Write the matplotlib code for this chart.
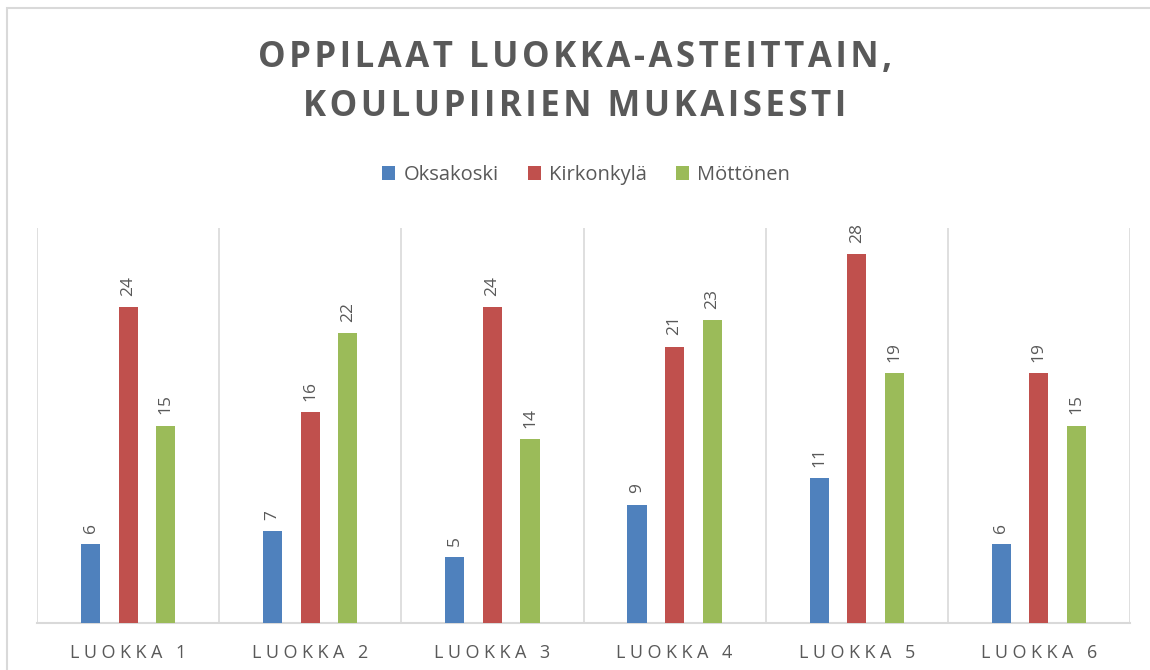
import numpy as np
import matplotlib
matplotlib.use("Agg")
import matplotlib.pyplot as plt
from matplotlib.patches import Rectangle

categories = ["LUOKKA 1", "LUOKKA 2", "LUOKKA 3", "LUOKKA 4", "LUOKKA 5", "LUOKKA 6"]
series_names = ["Oksakoski", "Kirkonkylä", "Möttönen"]
oksakoski = [6, 7, 5, 9, 11, 6]
kirkonkyla = [24, 16, 24, 21, 28, 19]
mottonen = [15, 22, 14, 23, 19, 15]

colors = ["#4F81BD", "#C0504D", "#9BBB59"]
text_grey = "#595959"
grid_grey = "#D9D9D9"

plt.rcParams["font.family"] = ["Open Sans", "DejaVu Sans"]


def spaced(s, sep="\u2009"):
    return sep.join(s)


fig = plt.figure(figsize=(11.5, 6.7), dpi=100)
# chart frame
fig.patches.append(Rectangle((7 / 1150, -0.1), 1.2, (670 - 8) / 670 + 0.1,
                             transform=fig.transFigure, fill=False,
                             edgecolor=grid_grey, linewidth=1.5))

ax = fig.add_axes([37 / 1150, 47 / 670, (1130 - 37) / 1150, (623 - 228) / 670])

x = np.arange(len(categories))
width = 0.105
offset = 0.206
for i, (vals, name) in enumerate(zip([oksakoski, kirkonkyla, mottonen], series_names)):
    bars = ax.bar(x + (i - 1) * offset, vals, width, color=colors[i], label=name, zorder=3)
    for b, v in zip(bars, vals):
        ax.annotate(str(v), (b.get_x() + b.get_width() / 2, b.get_height()),
                    xytext=(0, 8), textcoords="offset points", rotation=90,
                    ha="center", va="bottom", fontsize=12.5, color=text_grey)

ax.set_xlim(-0.5, len(categories) - 0.5)
ax.set_ylim(0, 30)
ax.set_yticks([])
ax.set_xticks(x)
ax.set_xticklabels([spaced(c, "\u2005") for c in categories], fontsize=13, color=text_grey)
ax.set_xticks(np.arange(-0.5, len(categories)), minor=True)
ax.tick_params(axis="x", which="both", length=0, pad=15)
ax.grid(True, axis="x", which="minor", color=grid_grey, linewidth=1.2, zorder=0)
for s in ["top", "right", "left"]:
    ax.spines[s].set_visible(False)
ax.spines["bottom"].set_color(grid_grey)
ax.spines["bottom"].set_linewidth(1.5)

fig.text(0.5, 1 - 58 / 670, spaced("OPPILAAT LUOKKA-ASTEITTAIN,", "\u200a"), ha="center", va="center",
         fontsize=25, fontweight="bold", color=text_grey)
fig.text(0.5, 1 - 107 / 670, spaced("KOULUPIIRIEN MUKAISESTI", "\u200a"), ha="center", va="center",
         fontsize=25, fontweight="bold", color=text_grey)

handles, labels = ax.get_legend_handles_labels()
fig.legend(handles, labels, loc="center", bbox_to_anchor=(586 / 1150, 1 - 175 / 670), ncol=3,
           frameon=False, fontsize=14.5, labelcolor=text_grey, handlelength=0.65,
           handleheight=0.65, handletextpad=0.4, columnspacing=1.45)

fig.savefig("out.png", dpi=100)
